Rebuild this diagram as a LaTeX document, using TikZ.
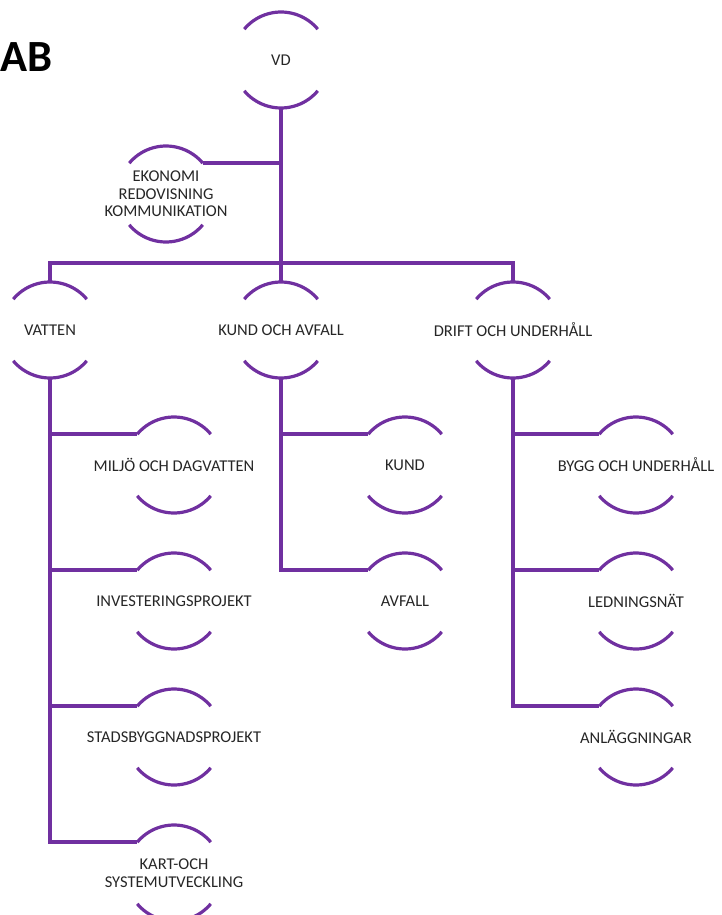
\documentclass[tikz,border=0pt]{standalone}
\usepackage{fontspec}
\setmainfont{Carlito}
\definecolor{org}{HTML}{7030A0}
\definecolor{txt}{HTML}{262626}
\begin{document}
\begin{tikzpicture}[x=1pt,y=-1pt,
  lbl/.style={text=txt, align=center, inner sep=0pt, font=\fontsize{16.5}{17.5}\selectfont},
  unit/.style={circle, minimum size=96pt, inner sep=0pt, outer sep=0pt, label={[lbl]center:#1}},
  link/.style={draw=org, line width=3.5pt},
  rim/.style={draw=org, line width=3.2pt}]
\useasboundingbox (0,0) rectangle (722,915);
\node[anchor=west, inner sep=0pt, font=\fontsize{44.6}{44.6}\selectfont\bfseries] (ab) at (0,57.5) {AB};

\node[unit={VD}] (vd) at (281,60) {};
\node[unit={EKONOMI\\REDOVISNING\\KOMMUNIKATION}] (eko) at (166,194) {};
\node[unit={VATTEN}] (vat) at (50,330) {};
\node[unit={KUND OCH AVFALL}] (kav) at (281,330) {};
\node[unit={DRIFT OCH UNDERHÅLL}] (dou) at (513,330) {};
\node[unit={MILJÖ OCH DAGVATTEN}] (mil) at (174,465) {};
\node[unit={INVESTERINGSPROJEKT}] (inv) at (174,601) {};
\node[unit={STADSBYGGNADSPROJEKT}] (sta) at (174,737) {};
\node[unit={KART-OCH\\SYSTEMUTVECKLING}] (kar) at (174,873) {};
\node[unit={KUND}] (kun) at (405,465) {};
\node[unit={AVFALL}] (avf) at (405,601) {};
\node[unit={BYGG OCH UNDERHÅLL}] (byg) at (636,465) {};
\node[unit={LEDNINGSNÄT}] (led) at (636,601) {};
\node[unit={ANLÄGGNINGAR}] (anl) at (636,737) {};

\coordinate (bus) at (281,263);

\foreach \n in {vd,eko,vat,kav,dou,mil,inv,sta,kar,kun,avf,byg,led,anl}{
  \draw[rim] (\n.40) arc[start angle=40,end angle=140,radius=48pt];
  \draw[rim] (\n.220) arc[start angle=220,end angle=320,radius=48pt];
}

\draw[link] (vd.south) -- (bus);
\draw[link] (eko.40) -- (eko.40 -| vd.south);
\draw[link] (vat.north) |- (dou.north |- bus) -- (dou.north);
\draw[link] (bus) -- (kav.north);
\draw[link] (vat.south) |- (kar.140);
\foreach \c in {mil,inv,sta} \draw[link] (\c.140) -- (\c.140 -| vat.south);
\draw[link] (kav.south) |- (avf.140);
\draw[link] (kun.140) -- (kun.140 -| kav.south);
\draw[link] (dou.south) |- (anl.140);
\foreach \c in {byg,led} \draw[link] (\c.140) -- (\c.140 -| dou.south);
\end{tikzpicture}
\end{document}
